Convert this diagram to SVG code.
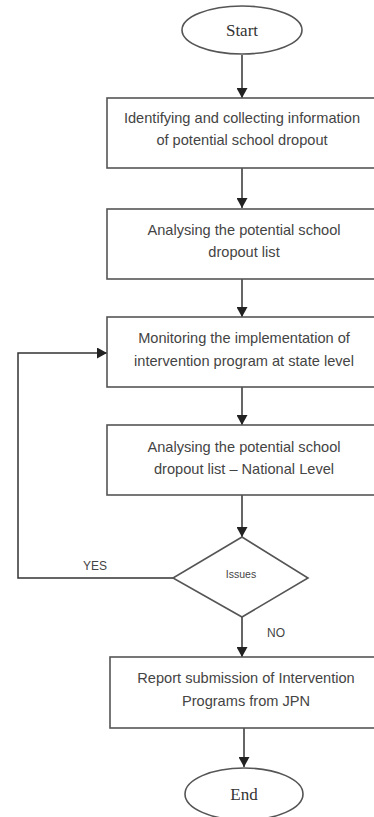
<svg xmlns="http://www.w3.org/2000/svg" width="374" height="817" viewBox="0 0 374 817">
<defs>
<marker id="ah" markerWidth="10" markerHeight="11" refX="10" refY="5.5" orient="auto" markerUnits="userSpaceOnUse">
<path d="M0,0 L10,5.5 L0,11 Z" fill="#222"/>
</marker>
<style>
.box{fill:#fff;stroke:#555;stroke-width:1.6}
.t{font-family:"Liberation Sans",Arial,sans-serif;font-size:14.6px;fill:#444;text-anchor:middle}
.s{font-family:"Liberation Serif","Times New Roman",serif;font-size:17px;fill:#333;text-anchor:middle}
.l{font-family:"Liberation Sans",Arial,sans-serif;font-size:12px;fill:#444;text-anchor:middle}
.c{fill:none;stroke:#333;stroke-width:1.5}
</style>
</defs>
<rect width="374" height="817" fill="#fff"/>
<g id="connectors">
<line class="c" x1="242" y1="55" x2="242" y2="98" marker-end="url(#ah)"/>
<line class="c" x1="242" y1="168" x2="242" y2="208" marker-end="url(#ah)"/>
<line class="c" x1="242" y1="279" x2="242" y2="317" marker-end="url(#ah)"/>
<line class="c" x1="242" y1="387" x2="242" y2="425" marker-end="url(#ah)"/>
<line class="c" x1="242" y1="495" x2="242" y2="537" marker-end="url(#ah)"/>
<polyline class="c" points="173,578 18,578 18,353 107,353" marker-end="url(#ah)"/>
<line class="c" x1="242" y1="617" x2="242" y2="657" marker-end="url(#ah)"/>
<line class="c" x1="244" y1="728" x2="244" y2="767" marker-end="url(#ah)"/>
<text class="l" x="95" y="570">YES</text>
<text class="l" x="276" y="637">NO</text>
</g>
<g id="start">
<ellipse cx="242" cy="30" rx="60" ry="24" fill="#fff" stroke="#555" stroke-width="1.6"/>
<text class="s" x="242" y="36">Start</text>
</g>
<g id="step1">
<rect class="box" x="107" y="98" width="272" height="70"/>
<text class="t" x="242" y="123">Identifying and collecting information</text>
<text class="t" x="242" y="145">of potential school dropout</text>
</g>
<g id="step2">
<rect class="box" x="107" y="209" width="272" height="70"/>
<text class="t" x="244" y="235">Analysing the potential school</text>
<text class="t" x="244" y="257">dropout list</text>
</g>
<g id="step3">
<rect class="box" x="107" y="317" width="272" height="70"/>
<text class="t" x="244" y="343">Monitoring the implementation of</text>
<text class="t" x="244" y="366">intervention program at state level</text>
</g>
<g id="step4">
<rect class="box" x="107" y="425" width="272" height="70"/>
<text class="t" x="244" y="452">Analysing the potential school</text>
<text class="t" x="244" y="474">dropout list – National Level</text>
</g>
<g id="decision">
<polygon points="242,537 308,578 242,617 173,578" fill="#fff" stroke="#555" stroke-width="1.6"/>
<text x="241" y="578" font-family="Liberation Sans,Arial,sans-serif" font-size="10.5" fill="#444" text-anchor="middle">Issues</text>
</g>
<g id="step5">
<rect class="box" x="110" y="657" width="272" height="71"/>
<text class="t" x="246" y="683">Report submission of Intervention</text>
<text class="t" x="246" y="706">Programs from JPN</text>
</g>
<g id="end">
<ellipse cx="244" cy="794" rx="59" ry="26" fill="#fff" stroke="#555" stroke-width="1.6"/>
<text class="s" x="244" y="800">End</text>
</g>
</svg>
